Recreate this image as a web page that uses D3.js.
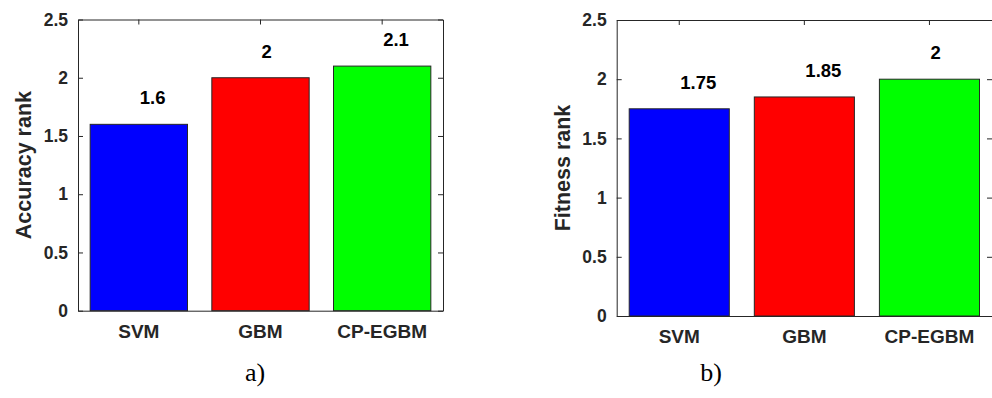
<!DOCTYPE html>
<html>
<head>
<meta charset="utf-8">
<script src="https://cdn.jsdelivr.net/npm/d3@7"></script>
<style>
  html, body { margin: 0; padding: 0; background: #ffffff; }
  svg { display: block; }
</style>
</head>
<body>
<script>
const categories = ["SVM", "GBM", "CP-EGBM"];
const accuracyRank = [1.6, 2, 2.1];
const fitnessRank = [1.75, 1.85, 2];
const yTicks = [0, 0.5, 1, 1.5, 2, 2.5];
const barColors = ["#0000ff", "#ff0000", "#00ff00"];
const panelCaptions = ["a)", "b)"];
const yLabels = ["Accuracy rank", "Fitness rank"];

const W = 992, H = 398;
const ink = "#262626";
const sans = "'Liberation Sans', Arial, Helvetica, sans-serif";

const svg = d3.select("body").append("svg").attr("width", W).attr("height", H);

const panels = [
  { values: accuracyRank, ylabel: yLabels[0], caption: panelCaptions[0],
    x0: 78, x1: 443, y0: 19.5, y1: 310.7, ylabX: 23, capX: 255 },
  { values: fitnessRank, ylabel: yLabels[1], caption: panelCaptions[1],
    x0: 616.7, x1: 992, y0: 20, y1: 316, ylabX: 562, capX: 711 }
];

panels.forEach(p => {
  const g = svg.append("g");
  const x = d3.scaleBand().domain(categories).range([p.x0, p.x1])
    .paddingInner(0.2).paddingOuter(0.1);
  const y = d3.scaleLinear().domain([0, 2.5]).range([p.y1, p.y0]);

  // bars
  g.selectAll("rect.bar").data(p.values).enter().append("rect")
    .attr("class", "bar")
    .attr("x", (d, i) => x(categories[i]))
    .attr("width", x.bandwidth())
    .attr("y", d => y(d))
    .attr("height", d => y(0) - y(d))
    .attr("fill", (d, i) => barColors[i])
    .attr("stroke", ink).attr("stroke-width", 1);

  // value labels (left-aligned at bar centre, as MATLAB text())
  g.selectAll("text.val").data(p.values).enter().append("text")
    .attr("class", "val")
    .attr("x", (d, i) => x(categories[i]) + x.bandwidth() / 2 + 1)
    .attr("y", d => y(d) - 20)
    .attr("text-anchor", "start")
    .attr("font-family", sans).attr("font-weight", "bold").attr("font-size", 18.5)
    .attr("fill", "#000")
    .text(d => String(d));

  // left axis
  const left = g.append("g").attr("transform", `translate(${p.x0},0)`)
    .call(d3.axisLeft(y).tickValues(yTicks).tickSizeInner(-5).tickSizeOuter(0)
      .tickPadding(10).tickFormat(d3.format("")));
  // right axis (ticks only)
  const right = g.append("g").attr("transform", `translate(${p.x1},0)`)
    .call(d3.axisRight(y).tickValues(yTicks).tickSizeInner(-5).tickSizeOuter(0)
      .tickFormat(""));
  // bottom axis
  const bottom = g.append("g").attr("transform", `translate(0,${p.y1})`)
    .call(d3.axisBottom(x).tickSize(0).tickPadding(14));
  // top axis
  const top = g.append("g").attr("transform", `translate(0,${p.y0})`)
    .call(d3.axisTop(x).tickSizeInner(-5).tickSizeOuter(0).tickFormat(""));

  [left, right, bottom, top].forEach(a => {
    a.selectAll("path").attr("stroke", ink).attr("stroke-width", 1);
    a.selectAll("line").attr("stroke", ink).attr("stroke-width", 1);
    a.selectAll("text").attr("font-family", sans).attr("font-weight", "bold")
      .attr("font-size", 17.5).attr("fill", ink);
  });
  bottom.selectAll("text").attr("font-size", 19).attr("dy", "0.71em");

  // y label
  g.append("text")
    .attr("transform", `translate(${p.ylabX},${(p.y0 + p.y1) / 2}) rotate(-90)`)
    .attr("text-anchor", "middle").attr("dy", "0.35em")
    .attr("font-family", sans).attr("font-weight", "bold").attr("font-size", 21.5)
    .attr("fill", ink)
    .text(p.ylabel);

  // caption
  g.append("text")
    .attr("x", p.capX).attr("y", 381)
    .attr("text-anchor", "middle")
    .attr("font-family", "'Liberation Serif', 'Times New Roman', serif")
    .attr("font-size", 26).attr("fill", "#000")
    .text(p.caption);
});
</script>
</body>
</html>
